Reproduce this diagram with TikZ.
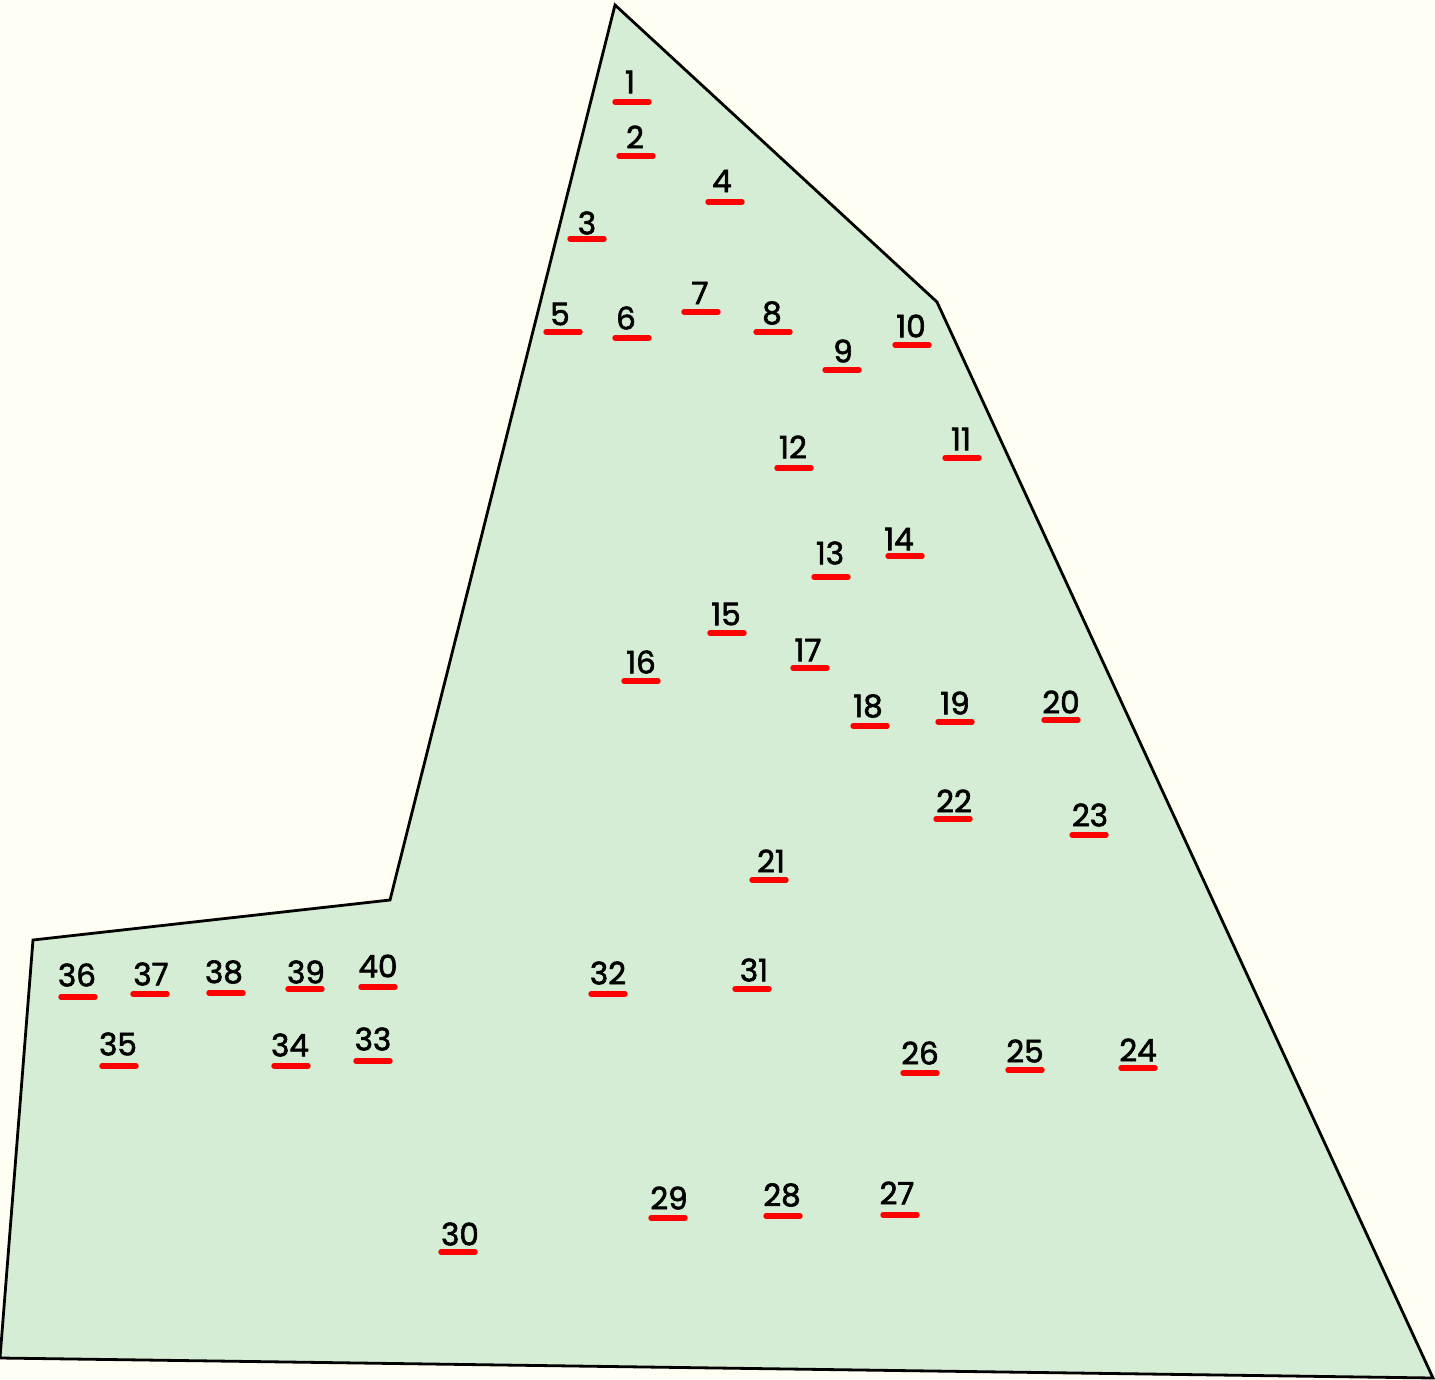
\documentclass[tikz,border=0pt]{standalone}
\usepackage{fontspec}
\setmainfont{Poppins}[BoldFont=Poppins, BoldFeatures={FakeBold=2}]
\definecolor{bgc}{HTML}{FEFFF2}
\definecolor{fillc}{HTML}{D5ECD5}
\definecolor{ulc}{HTML}{FF0000}
\tikzset{
  lbl/.style={font=\fontsize{31}{31}\selectfont\bfseries, text=black, inner sep=0pt, anchor=center},
  uline/.style={draw=ulc, line width=5.4pt, line cap=round},
  plot/.style={draw=black, line width=2.8pt, fill=fillc, line join=miter}
}
\newcommand{\lab}[6]{%
  \node[lbl] (n#1) at (#2,#3) {#6};
  \coordinate (ua#1) at (#4-17,#5);
  \coordinate (ub#1) at (#4+17,#5);
  \draw[uline] (ua#1) -- (ub#1);
}
\begin{document}
\begin{tikzpicture}[x=1pt,y=-1pt]
\fill[bgc] (0,0) rectangle (1435,1380);
\useasboundingbox (0,0) rectangle (1435,1380);
\draw[plot] (615,5) -- (937,302) -- (1433,1378) -- (0,1358) -- (33,940) -- (390,900) -- cycle;
\lab{1}{630}{82}{632}{102}{1}
\lab{2}{635}{137}{636}{156}{2}
\lab{3}{587}{223}{587}{239}{3}
\lab{4}{722}{181}{725}{202}{4}
\lab{5}{560}{314}{563}{332}{5}
\lab{6}{626}{318}{632}{338}{6}
\lab{7}{700}{293}{701}{312}{7}
\lab{8}{772}{313}{773}{332}{8}
\lab{9}{843}{351}{842}{370}{9}
\lab{10}{911}{326}{912}{345}{10}
\lab{11}{961}{439}{962}{458}{11}
\lab{12}{793}{447}{794}{468}{12}
\lab{13}{830}{553}{831}{577}{13}
\lab{14}{899}{539}{905}{556}{14}
\lab{15}{726}{614}{727}{633}{15}
\lab{16}{641}{662}{641}{681}{16}
\lab{17}{808}{650}{810}{668}{17}
\lab{18}{868}{706}{870}{726}{18}
\lab{19}{955}{703}{955}{722}{19}
\lab{20}{1061}{702}{1061}{720}{20}
\lab{21}{771}{861}{769}{880}{21}
\lab{22}{954}{801}{953}{819}{22}
\lab{23}{1090}{815}{1089}{835}{23}
\lab{24}{1138}{1050}{1138}{1068}{24}
\lab{25}{1025}{1051}{1025}{1070}{25}
\lab{26}{920}{1053}{920}{1073}{26}
\lab{27}{897}{1193}{900}{1215}{27}
\lab{28}{782}{1195}{783}{1216}{28}
\lab{29}{669}{1198}{668}{1218}{29}
\lab{30}{460}{1234}{458}{1252}{30}
\lab{31}{754}{970}{752}{989}{31}
\lab{32}{608}{973}{608}{994}{32}
\lab{33}{373}{1039}{373}{1061}{33}
\lab{34}{290}{1045}{291}{1066}{34}
\lab{35}{118}{1044}{119}{1066}{35}
\lab{36}{77}{975}{78}{997}{36}
\lab{37}{151}{974}{150}{994}{37}
\lab{38}{224}{972}{226}{993}{38}
\lab{39}{306}{972}{305}{989}{39}
\lab{40}{378}{966}{378}{987}{40}
\end{tikzpicture}
\end{document}
